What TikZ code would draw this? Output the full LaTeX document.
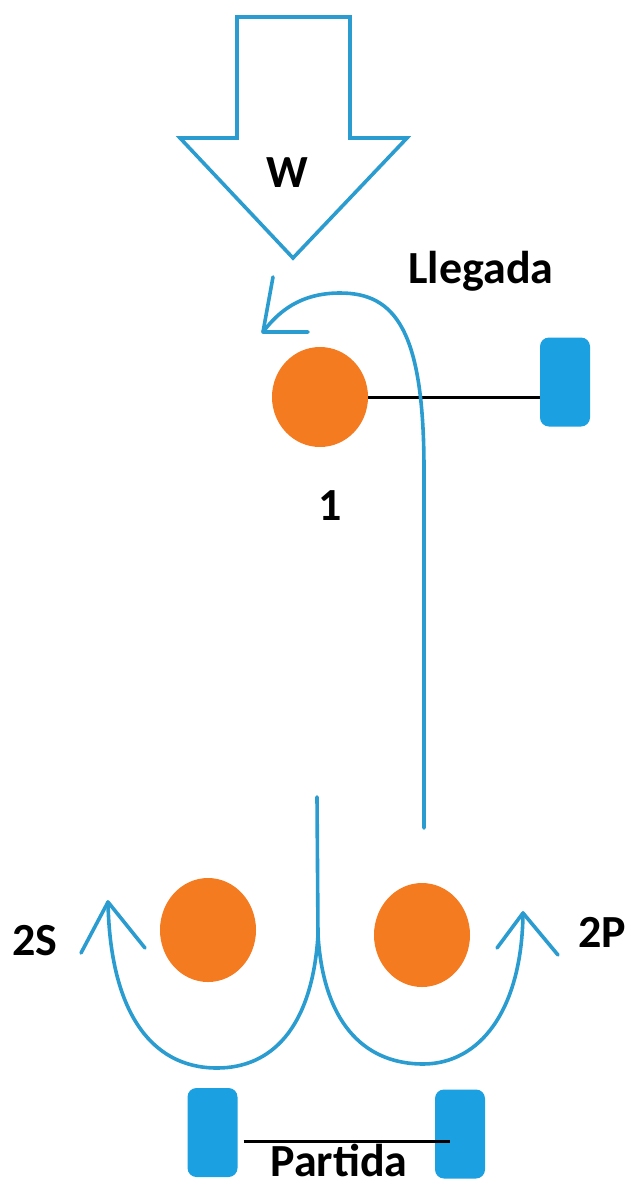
\documentclass[tikz,border=0pt]{standalone}
\usepackage{fontspec}
\setmainfont{Carlito}
\usetikzlibrary{shapes.geometric}
\definecolor{flow}{HTML}{2B9CCF}
\definecolor{pad}{HTML}{1BA0E2}
\definecolor{ball}{HTML}{F47B20}
\tikzset{
  flowline/.style={draw=flow, line width=3.6pt, line cap=round, line join=round},
  roller/.style={ellipse, fill=ball, draw=none, inner sep=0pt, minimum width=96pt, minimum height=104pt},
  padbox/.style={rectangle, rounded corners=9pt, fill=pad, draw=none, inner sep=0pt, minimum width=50pt, minimum height=89pt},
  lbl/.style={font=\fontsize{46}{50}\selectfont\bfseries, inner sep=0pt, anchor=base},
  link/.style={draw=black, line width=3pt}
}
\begin{document}
\begin{tikzpicture}[x=1pt,y=-1pt]
\useasboundingbox (0,0) rectangle (631,1187);
% big load arrow
\draw[flowline, line cap=butt, line join=miter] (237,17) -- (350,17) -- (350,138) -- (407,138) -- (293,258) -- (180,138) -- (237,138) -- cycle;
\node[lbl] (w) at (287,187) {W};
\node[lbl] (lleg) at (481,283) {Llegada};
% roller 1 and pad
\node[roller, minimum height=100pt] (r1) at (320,397) {};
\node[padbox] (p1) at (565,382) {};
\draw[link] (r1.east) -- (r1.east -| p1.west);
\node[lbl] (n1) at (330,520) {1};
% top flow
\coordinate (a0) at (424,828);
\coordinate (atip) at (263,332);
\draw[flowline] (a0) -- (424,470) .. controls (424,330) and (395,293) .. (340,293) .. controls (300,293) and (278,312) .. (atip);
\draw[flowline] (273,277) -- (atip) -- (308,332);
% bottom rollers
\node[roller] (r2s) at (208,930) {};
\node[roller] (r2p) at (422,935) {};
% bottom flow
\coordinate (b0) at (317,797);
\coordinate (bf) at (318,935);
\coordinate (ltip) at (108,902);
\coordinate (rtip) at (523,913);
\draw[flowline] (b0) -- (bf);
\draw[flowline] (bf) .. controls (312,1030) and (270,1068) .. (217,1068) .. controls (150,1068) and (110,1010) .. (ltip);
\draw[flowline] (bf) .. controls (324,1030) and (370,1064) .. (423,1064) .. controls (480,1064) and (522,1010) .. (rtip);
\draw[flowline] (81,953) -- (ltip) -- (145,948);
\draw[flowline] (497,948) -- (rtip) -- (558,955);
\node[lbl] (l2s) at (35,955) {2S};
\node[lbl] (l2p) at (602,947) {2P};
% bottom pads
\node[padbox] (pl) at (212.5,1132.5) {};
\node[padbox] (pr) at (460,1134) {};
\draw[link] ([xshift=6pt]pl.east |- 0,1141) -- (450,1141);
\node[lbl] (part) at (339,1176) {Partida};
\end{tikzpicture}
\end{document}
